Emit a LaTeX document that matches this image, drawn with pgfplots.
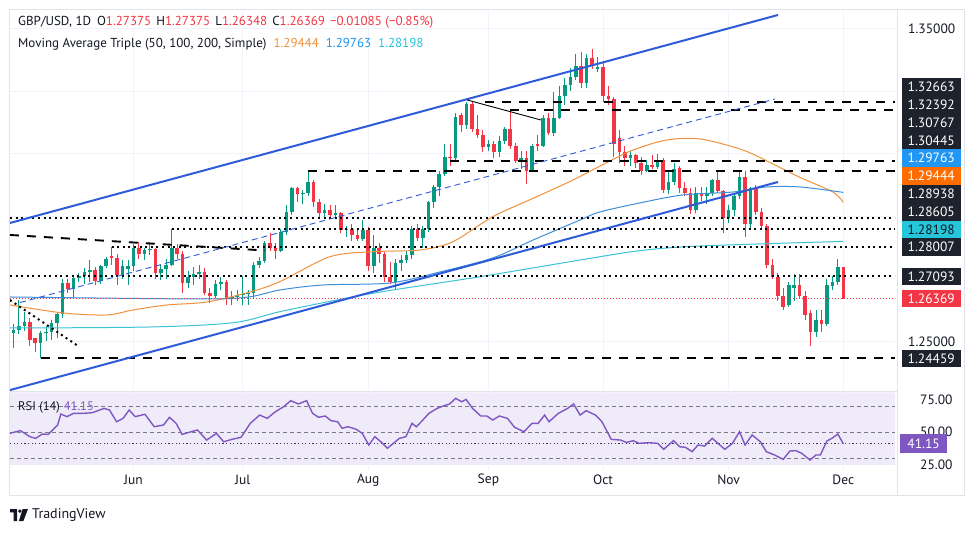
\documentclass[border=0pt]{standalone}
\usepackage{pgfplots}
\pgfplotsset{compat=1.18}
\usepackage{pgfplotstable}
\usepackage{fontspec}
\setmainfont{PT Sans}

\definecolor{bull}{HTML}{089981}
\definecolor{bear}{HTML}{F23645}
\definecolor{chan}{HTML}{2F5BD8}
\definecolor{smaA}{HTML}{F0923C}
\definecolor{smaB}{HTML}{3F8ED8}
\definecolor{smaC}{HTML}{3CC3D6}
\definecolor{boxA}{HTML}{FF6D00}
\definecolor{boxB}{HTML}{2196F3}
\definecolor{boxC}{HTML}{26C6DA}
\definecolor{lbl}{HTML}{1E222D}
\definecolor{txt}{HTML}{131722}
\definecolor{rsic}{HTML}{7E57C2}
\definecolor{rsifill}{HTML}{F0EBF8}
\definecolor{gridc}{HTML}{F0F3FA}
\definecolor{framec}{HTML}{E0E3EB}
\definecolor{bandc}{HTML}{787B86}

\newcommand\fs{\fontsize{13.5}{15}\selectfont}

% daily GBP/USD candles, x = trading day (0 = 3 Jun)
\pgfplotstableread{
i o h l c
-22 1.2528 1.2555 1.2480 1.2537
-21 1.2537 1.2634 1.2525 1.2550
-20 1.2550 1.2594 1.2535 1.2563
-17 1.2495 1.2535 1.2446 1.2526
-16 1.2526 1.2550 1.2500 1.2530
-15 1.2530 1.2568 1.2505 1.2560
-14 1.2560 1.2595 1.2510 1.2588
-13 1.2588 1.2700 1.2575 1.2686
-11 1.2668 1.2712 1.2640 1.2702
-10 1.2702 1.2720 1.2690 1.2710
-9 1.2710 1.2735 1.2685 1.2722
-8 1.2722 1.2760 1.2690 1.2729
-6 1.2692 1.2745 1.2685 1.2740
-5 1.2740 1.2770 1.2735 1.2765
-2 1.2712 1.2760 1.2700 1.2740
-1 1.2730 1.2760 1.2680 1.2742
0 1.2742 1.2810 1.2725 1.2800
2 1.2780 1.2800 1.2760 1.2792
3 1.2792 1.2818 1.2775 1.2797
5 1.2720 1.2745 1.2695 1.2730
6 1.2730 1.2765 1.2700 1.2745
7 1.2745 1.2860 1.2740 1.2800
10 1.2686 1.2725 1.2672 1.2707
11 1.2707 1.2738 1.2680 1.2717
12 1.2717 1.2745 1.2700 1.2722
15 1.2645 1.2695 1.2640 1.2685
16 1.2685 1.2705 1.2665 1.2690
18 1.2635 1.2660 1.2615 1.2642
19 1.2642 1.2665 1.2630 1.2648
20 1.2648 1.2710 1.2615 1.2652
21 1.2652 1.2666 1.2615 1.2656
22 1.2656 1.2755 1.2640 1.2744
23 1.2744 1.2770 1.2735 1.2758
24 1.2758 1.2820 1.2750 1.2814
27 1.2790 1.2860 1.2785 1.2850
28 1.2850 1.2935 1.2840 1.2915
29 1.2915 1.2995 1.2905 1.2990
31 1.2970 1.2985 1.2940 1.2975
32 1.2975 1.3044 1.2965 1.3010
35 1.2912 1.2940 1.2895 1.2920
37 1.2905 1.2935 1.2890 1.2910
39 1.2855 1.2870 1.2835 1.2860
42 1.2828 1.2888 1.2820 1.2855
44 1.2740 1.2840 1.2720 1.2800
48 1.2690 1.2765 1.2665 1.2750
49 1.2750 1.2775 1.2725 1.2760
50 1.2760 1.2790 1.2750 1.2775
51 1.2775 1.2870 1.2765 1.2860
53 1.2830 1.2870 1.2800 1.2860
54 1.2860 1.2950 1.2850 1.2945
55 1.2945 1.3000 1.2925 1.2995
56 1.2995 1.3045 1.2965 1.3035
57 1.3035 1.3130 1.3030 1.3090
59 1.3086 1.3230 1.3080 1.3218
61 1.3190 1.3266 1.3180 1.3260
65 1.3120 1.3145 1.3110 1.3130
67 1.3105 1.3155 1.3090 1.3140
68 1.3140 1.3185 1.3130 1.3180
71 1.3075 1.3110 1.3050 1.3085
73 1.3045 1.3130 1.3040 1.3125
75 1.3125 1.3225 1.3120 1.3215
77 1.3165 1.3297 1.3155 1.3215
78 1.3215 1.3315 1.3210 1.3285
79 1.3285 1.3342 1.3255 1.3320
80 1.3320 1.3375 1.3300 1.3345
81 1.3345 1.3420 1.3335 1.3380
83 1.3325 1.3420 1.3310 1.3405
85 1.3372 1.3410 1.3360 1.3378
91 1.3085 1.3110 1.3060 1.3095
94 1.3045 1.3080 1.3040 1.3065
96 1.3058 1.3100 1.3050 1.3080
98 1.2985 1.3045 1.2970 1.3010
99 1.3010 1.3070 1.3000 1.3050
103 1.2920 1.2995 1.2910 1.2975
105 1.2965 1.2995 1.2940 1.2975
106 1.2975 1.3020 1.2965 1.3015
109 1.2895 1.2935 1.2880 1.2920
110 1.2920 1.2975 1.2900 1.2965
111 1.2965 1.3045 1.2955 1.3025
113 1.2875 1.2995 1.2860 1.2990
120 1.2615 1.2690 1.2610 1.2680
121 1.2672 1.2715 1.2630 1.2680
125 1.2530 1.2600 1.2515 1.2570
127 1.2555 1.2700 1.2550 1.2680
128 1.2678 1.2710 1.2665 1.2690
129 1.2690 1.2765 1.2680 1.2737
}\bulltab

\pgfplotstableread{
i o h l c
-19 1.2563 1.2575 1.2485 1.2505
-18 1.2510 1.2512 1.2465 1.2495
-12 1.2686 1.2700 1.2655 1.2668
-7 1.2729 1.2737 1.2680 1.2692
-4 1.2772 1.2802 1.2745 1.2768
-3 1.2768 1.2780 1.2680 1.2712
1 1.2800 1.2818 1.2765 1.2780
4 1.2797 1.2800 1.2700 1.2720
8 1.2800 1.2812 1.2765 1.2780
9 1.2780 1.2790 1.2655 1.2686
13 1.2722 1.2735 1.2650 1.2655
14 1.2655 1.2672 1.2624 1.2645
17 1.2690 1.2695 1.2615 1.2635
25 1.2814 1.2845 1.2790 1.2800
26 1.2800 1.2815 1.2765 1.2790
30 1.2990 1.2995 1.2945 1.2970
33 1.3010 1.3015 1.2930 1.2947
34 1.2947 1.2955 1.2895 1.2912
36 1.2920 1.2935 1.2895 1.2905
38 1.2910 1.2915 1.2845 1.2855
40 1.2860 1.2875 1.2820 1.2840
41 1.2840 1.2860 1.2820 1.2828
43 1.2855 1.2865 1.2725 1.2740
45 1.2800 1.2815 1.2750 1.2780
46 1.2780 1.2785 1.2690 1.2705
47 1.2705 1.2755 1.2685 1.2690
52 1.2860 1.2875 1.2820 1.2830
58 1.3090 1.3130 1.3060 1.3086
60 1.3222 1.3230 1.3170 1.3190
62 1.3260 1.3265 1.3170 1.3180
63 1.3180 1.3225 1.3150 1.3160
64 1.3160 1.3175 1.3105 1.3120
66 1.3130 1.3140 1.3085 1.3105
69 1.3180 1.3240 1.3115 1.3125
70 1.3125 1.3135 1.3070 1.3075
72 1.3085 1.3110 1.3002 1.3045
74 1.3130 1.3160 1.3110 1.3125
76 1.3215 1.3230 1.3160 1.3165
82 1.3380 1.3425 1.3310 1.3325
84 1.3405 1.3434 1.3370 1.3380
86 1.3378 1.3390 1.3265 1.3285
87 1.3285 1.3315 1.3255 1.3275
88 1.3275 1.3280 1.3090 1.3130
89 1.3150 1.3175 1.3070 1.3105
90 1.3105 1.3125 1.3060 1.3085
92 1.3095 1.3100 1.3055 1.3070
93 1.3070 1.3090 1.3032 1.3045
95 1.3065 1.3095 1.3050 1.3058
97 1.3080 1.3085 1.2975 1.2985
100 1.3055 1.3060 1.2975 1.2990
101 1.2990 1.3010 1.2965 1.2975
102 1.2975 1.2990 1.2908 1.2920
104 1.2975 1.2995 1.2950 1.2965
107 1.3015 1.3045 1.2975 1.2980
108 1.2980 1.2985 1.2845 1.2895
112 1.3025 1.3045 1.2835 1.2875
114 1.2990 1.3000 1.2905 1.2915
115 1.2915 1.2925 1.2860 1.2870
116 1.2870 1.2875 1.2735 1.2745
117 1.2745 1.2765 1.2700 1.2705
118 1.2705 1.2720 1.2630 1.2645
119 1.2645 1.2670 1.2600 1.2610
122 1.2680 1.2715 1.2640 1.2645
123 1.2645 1.2660 1.2570 1.2585
124 1.2590 1.2600 1.2487 1.2530
126 1.2570 1.2600 1.2530 1.2555
130 1.27375 1.27375 1.26348 1.26369
}\beartab

\pgfplotsset{
  candle/.style 2 args={mark=none, draw=none, forget plot,
    error bars/y dir=plus, error bars/y explicit, error bars/error mark=none,
    error bars/error bar style={line width=#2, draw=#1, solid}},
  dashblk/.style={black, line width=1.9pt, dash pattern=on 9pt off 8pt, forget plot},
  dotblk/.style={black, line width=2pt, dash pattern=on 2pt off 3.6pt, forget plot},
}
\tikzset{lblbox/.style={inner sep=0pt, minimum width=59pt, minimum height=17.8pt, font=\fs, text=white}}

\begin{document}
\begin{tikzpicture}
\begin{scope}[x=1pt,y=1pt]
\fill[white] (0,0) rectangle (973,533);
\path[use as bounding box] (0,0) rectangle (973,533);
\draw[framec, line width=0.8pt] (9,38) rectangle (964,524);
\draw[framec, line width=0.8pt] (897,38) -- (897,524);
\draw[framec, line width=0.8pt] (9,142) -- (897,142);
\end{scope}

% ---------- price pane ----------
\begin{axis}[
  at={(10pt,143pt)}, anchor=south west, width=885pt, height=380pt, scale only axis,
  xmin=-22.62, xmax=139.47, ymin=1.2345, ymax=1.3559,
  axis line style={draw=none}, major tick length=0pt,
  xtick={0,20,43,65,86,109,130}, xticklabels={},
  ytick={1.25,1.27,1.29,1.31,1.33,1.35}, yticklabels={1.25000,,,,,1.35000},
  yticklabel pos=right,
  yticklabel style={anchor=west, inner sep=0pt, xshift=13pt, font=\fs, text=txt},
  grid=major, grid style={draw=gridc, line width=0.8pt},
  clip mode=individual,
]
% candles
\addplot[candle={bull}{1pt}] table[x=i, y=l, y error plus expr=\thisrow{h}-\thisrow{l}] {\bulltab};
\addplot[candle={bear}{1pt}] table[x=i, y=l, y error plus expr=\thisrow{h}-\thisrow{l}] {\beartab};
\addplot[candle={bull}{3.6pt}] table[x=i, y=o, y error plus expr=\thisrow{c}-\thisrow{o}] {\bulltab};
\addplot[candle={bear}{3.6pt}] table[x=i, y=c, y error plus expr=\thisrow{o}-\thisrow{c}] {\beartab};

% moving averages 50 / 100 / 200
\addplot[smaA, line width=1pt, smooth, forget plot] coordinates {
(-22.6,1.26166) (-12.9,1.25911) (-4.9,1.25847) (-0.1,1.26006) (6.1,1.26166)
(13.5,1.26262) (21.3,1.26581) (26.8,1.26911) (36.0,1.27710) (43.9,1.27869)
(52.5,1.27923) (58.5,1.28188) (65.8,1.28987) (73.2,1.29575) (80.5,1.30160)
(86.5,1.30700) (91.5,1.31118) (97.7,1.31438) (103.8,1.31470) (111.6,1.31118)
(117.1,1.30671) (122.1,1.30240) (128.1,1.29776) (130,1.29444)};
\addplot[smaB, line width=1pt, smooth, forget plot] coordinates {
(-22.6,1.26422) (12.2,1.26358) (21.0,1.26420) (26.8,1.26645) (34.7,1.26805)
(47.0,1.26869) (56.1,1.27220) (65.8,1.27668) (73.2,1.28243) (81.8,1.28882)
(85.4,1.29137) (92.7,1.29425) (100.6,1.29681) (109.8,1.29776) (116.0,1.29936)
(122.1,1.29936) (130,1.29763)};
\addplot[smaC, line width=1pt, smooth, forget plot] coordinates {
(-22.6,1.25431) (3.0,1.25463) (18.3,1.25600) (26.8,1.25952) (39.1,1.26390)
(47.5,1.26645) (63.5,1.27070) (81.8,1.27603) (92.7,1.27901) (103.8,1.28051)
(130,1.28198)};

% horizontal levels
\addplot[dashblk] coordinates {(64.4,1.32663) (139.47,1.32663)};
\addplot[dashblk] coordinates {(69,1.32392) (139.47,1.32392)};
\addplot[dashblk] coordinates {(58,1.30767) (139.47,1.30767)};
\addplot[dashblk] coordinates {(32,1.30445) (139.47,1.30445)};
\addplot[dashblk] coordinates {(-17,1.24459) (139.47,1.24459)};
\addplot[dashblk] coordinates {(-22.62,1.28403) (24.08,1.27907)};
\addplot[dotblk] coordinates {(-22.62,1.28938) (139.47,1.28938)};
\addplot[dotblk] coordinates {(7,1.28605) (139.47,1.28605)};
\addplot[dotblk] coordinates {(-4,1.28007) (139.47,1.28007)};
\addplot[dotblk] coordinates {(-22.62,1.27093) (139.47,1.27093)};
\addplot[dotblk] coordinates {(-22.62,1.26323) (-10.16,1.24856)};
\addplot[bear, line width=0.8pt, dash pattern=on 1pt off 2pt, forget plot] coordinates {(-22.62,1.26369) (139.47,1.26369)};

% channel
\addplot[chan, line width=2pt, forget plot] coordinates {(-22.62,1.28786) (118.04,1.35431)};
\addplot[chan, line width=2pt, forget plot] coordinates {(-22.62,1.23448) (118.04,1.30096)};
\addplot[chan, line width=0.9pt, dash pattern=on 6pt off 4pt, forget plot] coordinates {(-20.79,1.26243) (117.49,1.32748)};
\addplot[black, line width=0.9pt, forget plot] coordinates {(61.1,1.32716) (74.6,1.32077)};

% price scale labels
\node[lblbox, fill=lbl] at (axis cs:146.1,1.33128) {1.32663};
\node[lblbox, fill=lbl] at (axis cs:146.1,1.32559) {1.32392};
\node[lblbox, fill=lbl] at (axis cs:146.1,1.31990) {1.30767};
\node[lblbox, fill=lbl] at (axis cs:146.1,1.31422) {1.30445};
\node[lblbox, fill=boxB] at (axis cs:146.1,1.30853) {1.29763};
\node[lblbox, fill=boxA] at (axis cs:146.1,1.30284) {1.29444};
\node[lblbox, fill=lbl] at (axis cs:146.1,1.29716) {1.28938};
\node[lblbox, fill=lbl] at (axis cs:146.1,1.29147) {1.28605};
\node[lblbox, fill=boxC, text=txt] at (axis cs:146.1,1.28578) {1.28198};
\node[lblbox, fill=lbl] at (axis cs:146.1,1.28010) {1.28007};
\node[lblbox, fill=lbl] at (axis cs:146.1,1.27077) {1.27093};
\node[lblbox, fill=bear] at (axis cs:146.1,1.26374) {1.26369};
\node[lblbox, fill=lbl] at (axis cs:146.1,1.24457) {1.24459};
\end{axis}

% ---------- RSI pane ----------
\begin{axis}[
  at={(10pt,63pt)}, anchor=south west, width=885pt, height=78pt, scale only axis,
  xmin=-22.62, xmax=139.47, ymin=21.09, ymax=80.75,
  axis line style={draw=none}, major tick length=0pt,
  xtick={0,20,43,65,86,109,130}, xticklabels={Jun,Jul,Aug,Sep,Oct,Nov,Dec},
  xticklabel style={anchor=center, inner sep=0pt, yshift=-10pt, font=\fs, text=txt},
  ytick={25,50,75}, yticklabels={25.00,50.00,75.00}, yticklabel pos=right,
  yticklabel style={anchor=west, inner sep=0pt, xshift=25pt, font=\fs, text=txt},
  xmajorgrids, grid style={draw=gridc, line width=0.8pt},
  clip mode=individual,
]
\addplot[draw=none, fill=rsifill, forget plot] coordinates {(-22.62,25) (139.47,25) (139.47,80.5) (-22.62,80.5) (-22.62,25)};
\addplot[bandc, line width=0.8pt, dash pattern=on 4pt off 3pt, forget plot] coordinates {(-22.62,70) (139.47,70)};
\addplot[bandc, line width=0.8pt, dash pattern=on 4pt off 3pt, forget plot] coordinates {(-22.62,50) (139.47,50)};
\addplot[bandc, line width=0.8pt, dash pattern=on 4pt off 3pt, forget plot] coordinates {(-22.62,30) (139.47,30)};
\addplot[rsic!50!black, line width=1.2pt, dash pattern=on 1.2pt off 2.4pt, forget plot] coordinates {(-22.62,41.15) (139.47,41.15)};
\addplot[rsic, line width=1.4pt, forget plot] coordinates {
(-22.7,49.1) (-20.7,51.2) (-19.0,46.6) (-17.9,45.3) (-16.7,48.6) (-15.6,48.3) (-13.9,55.5) (-13.3,63.9)
(-12.2,61.9) (-11.0,64.4) (-9.3,64.4) (-7.6,64.9) (-6.5,66.5) (-5.4,68.2) (-4.4,67.0) (-3.1,58.0)
(-1.9,60.6) (-0.8,67.0) (0.3,61.9) (2.1,63.7) (3.8,54.2) (5.5,55.5) (6.6,61.4) (7.8,56.8)
(8.9,48.3) (10.6,50.4) (11.7,51.7) (13.4,44.0) (15.2,49.1) (16.5,42.7) (18.0,44.5) (19.7,46.1)
(21.4,56.8) (23.1,63.1) (24.5,60.6) (26.0,65.7) (27.5,69.5) (28.8,74.1) (30.2,71.6) (31.7,74.1)
(32.8,64.4) (33.9,61.4) (35.1,62.4) (36.2,58.8) (37.4,58.0) (38.2,53.0) (39.3,54.2) (40.8,52.2)
(41.9,49.1) (43.1,40.2) (44.2,46.6) (45.3,42.7) (46.5,37.7) (47.6,41.5) (48.7,45.3) (49.9,46.6)
(51.0,56.8) (51.8,54.2) (52.7,58.0) (54.1,64.4) (55.6,68.2) (56.7,70.0) (57.9,71.6) (59.0,75.9)
(60.1,73.3) (60.9,75.1) (62.1,68.2) (63.6,62.4) (64.7,62.4) (65.8,59.3) (67.0,62.4) (68.5,60.6)
(69.8,53.7) (71.5,50.4) (73.0,56.8) (74.1,56.8) (75.3,63.1) (76.1,58.0) (77.8,64.4) (79.5,68.2)
(80.6,71.6) (81.8,63.1) (82.9,66.5) (84.6,63.1) (85.8,58.0) (87.5,44.5) (89.2,44.0) (90.3,42.2)
(91.5,43.5) (92.6,41.5) (94.3,42.0) (96.0,41.5) (97.1,36.9) (98.9,43.5) (100.0,38.9) (101.1,38.4)
(102.3,35.1) (103.4,40.2) (104.6,39.4) (106.0,45.3) (107.4,40.2) (108.3,36.9) (109.7,41.5) (111.0,50.4)
(112.0,40.2) (113.3,47.9) (114.8,42.7) (115.9,35.1) (117.4,32.6) (119.0,29.2) (120.2,35.6) (121.3,35.9)
(122.4,33.8) (123.9,28.7) (125.0,32.6) (125.8,32.6) (127.0,43.3) (127.9,45.3) (129.0,48.6) (130,41.15)};
\node[anchor=west, inner sep=0pt, font=\fontsize{12.5}{14}\selectfont, text=txt] at (axis cs:-21.15,69.3) {RSI (14)\hspace{4pt}\textcolor{rsic}{41.15}};
\node[inner sep=0pt, minimum width=47pt, minimum height=19pt, fill=rsic, text=white, font=\fs] at (axis cs:144.7,41.15) {41.15};
\end{axis}

\begin{scope}[x=1pt,y=1pt]
% ---------- legend text ----------
\node[anchor=west, inner sep=0pt, font=\fontsize{13}{15}\selectfont, text=txt] at (18,511)
  {GBP/USD, 1D\hspace{6pt}O\textcolor{bear}{1.27375}\hspace{5pt}H\textcolor{bear}{1.27375}\hspace{5pt}L\textcolor{bear}{1.26348}\hspace{5pt}C\textcolor{bear}{1.26369}\hspace{5pt}\textcolor{bear}{−0.01085 (−0.85\%)}};
\node[anchor=west, inner sep=0pt, font=\fontsize{13}{15}\selectfont, text=txt] at (18,489)
  {Moving Average Triple (50, 100, 200, Simple)\hspace{7pt}\textcolor{smaA}{1.29444}\hspace{7pt}\textcolor{boxB}{1.29763}\hspace{7pt}\textcolor{boxC}{1.28198}};

% ---------- logo ----------
\fill[txt] (10,24) -- (17,24) -- (17,12) -- (13.6,12) -- (13.6,20.6) -- (10,20.6) -- cycle;
\fill[txt] (19.9,21.9) circle (1.9);
\fill[txt] (22.6,24) -- (28,24) -- (23.4,12) -- (18.9,12) -- cycle;
\node[anchor=west, inner sep=0pt, font=\fontsize{14}{16}\selectfont, text=txt] at (32,18) {TradingView};
\end{scope}
\end{tikzpicture}
\end{document}
